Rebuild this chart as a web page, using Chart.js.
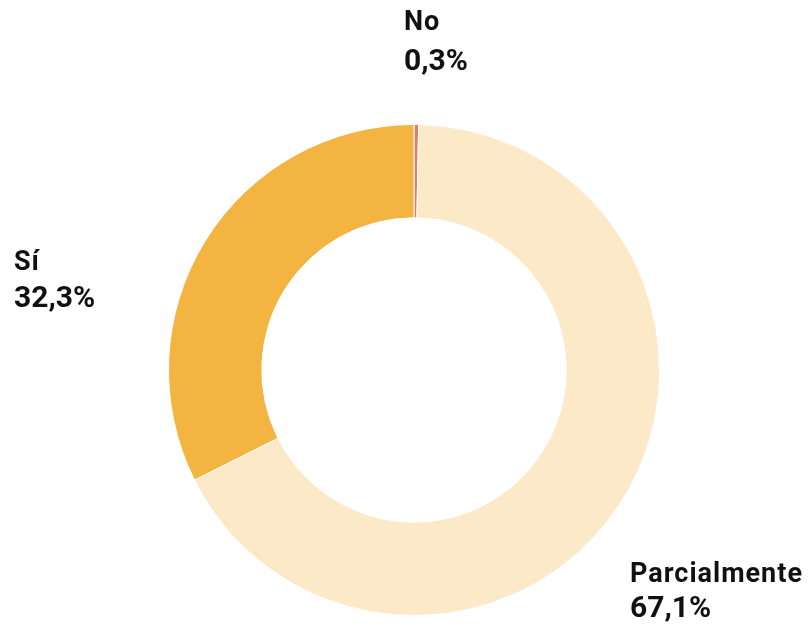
<!DOCTYPE html>
<html>
<head>
<meta charset="utf-8">
<script src="https://cdn.jsdelivr.net/npm/chart.js@4.4.1/dist/chart.umd.min.js"></script>
<style>
  html, body { margin: 0; padding: 0; background: #fff; }
  #wrap { width: 810px; height: 627px; }
</style>
</head>
<body>
<div id="wrap"><canvas id="donut" width="810" height="627"></canvas></div>
<script>
// Respuestas (orden horario desde arriba)
const categories = ['No', 'Parcialmente', 'Sí'];
const values = [0.3, 67.1, 32.3];
const colors = ['#E08062', '#FBE9C8', '#F3B441'];

// Posición de cada etiqueta respecto al centro del anillo
// (dy = línea base del nombre, gap = distancia hasta la línea del valor)
const labelOffsets = [
    { dx: -10, dy: -340, gap: 40 },
    { dx: 216, dy: 212, gap: 35 },
    { dx: -400, dy: -100, gap: 37 }
];

const fmt = v => v.toFixed(1).replace('.', ',') + '%';

const outsideLabels = {
    id: 'outsideLabels',
    afterDraw(chart) {
        const ctx = chart.ctx;
        const arc = chart.getDatasetMeta(0).data[0];
        const cx = arc.x, cy = arc.y;
        ctx.save();
        ctx.fillStyle = '#111111';
        ctx.textAlign = 'left';
        ctx.textBaseline = 'alphabetic';
        categories.forEach((name, i) => {
            const o = labelOffsets[i];
            const x = cx + o.dx;
            const y = cy + o.dy;
            ctx.letterSpacing = '1px';
            ctx.font = 'bold 27px "Roboto", "DejaVu Sans", sans-serif';
            ctx.fillText(name, x, y);
            ctx.letterSpacing = '0px';
            ctx.font = 'bold 30px "Roboto", "DejaVu Sans", sans-serif';
            ctx.fillText(fmt(values[i]), x, y + o.gap);
        });
        ctx.restore();
    }
};

new Chart(document.getElementById('donut'), {
    type: 'doughnut',
    data: {
        labels: categories,
        datasets: [{
            data: values,
            backgroundColor: colors,
            borderColor: '#ffffff',
            borderWidth: 1
        }]
    },
    options: {
        responsive: false,
        animation: false,
        cutout: '62%',
        layout: { padding: { top: 124, bottom: 11, left: 168, right: 150 } },
        plugins: {
            legend: { display: false },
            tooltip: { enabled: false }
        }
    },
    plugins: [outsideLabels]
});
</script>
</body>
</html>
